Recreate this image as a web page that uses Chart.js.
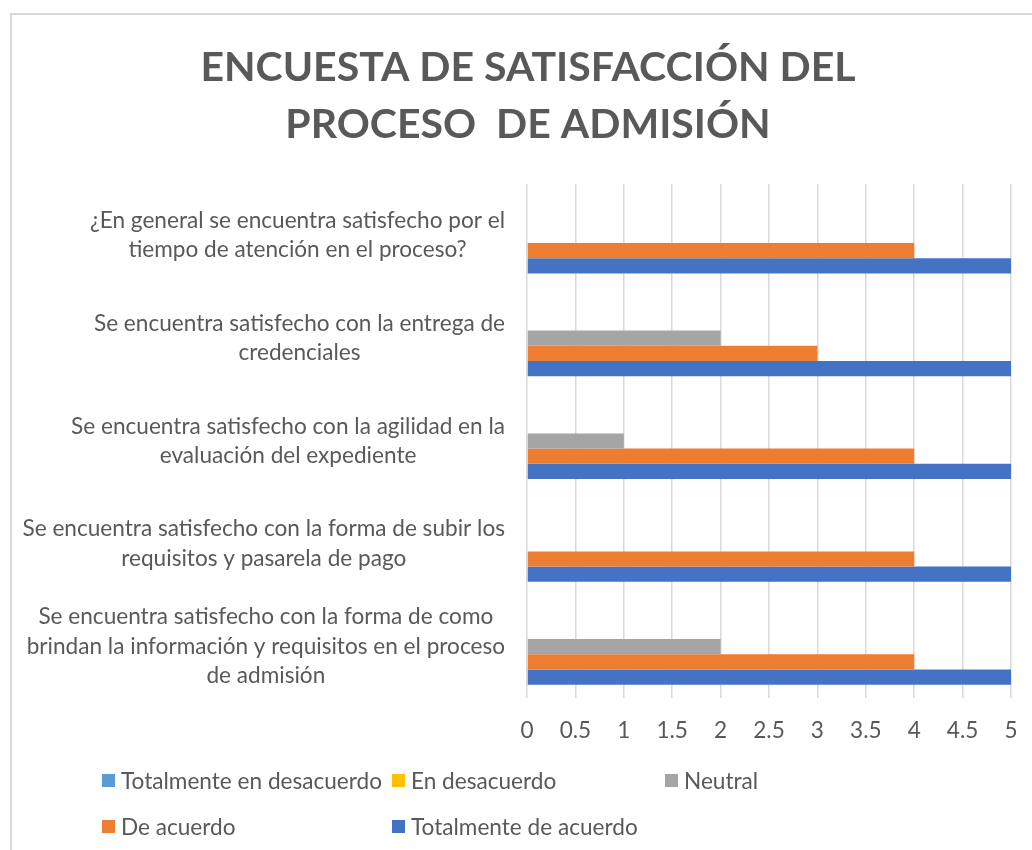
<!DOCTYPE html>
<html>
<head>
<meta charset="utf-8">
<script src="https://cdn.jsdelivr.net/npm/chart.js@4.4.1/dist/chart.umd.min.js"></script>
<style>
  body { margin: 0; background: #fff; overflow: hidden; font-family: Lato, sans-serif; }
  #frame { position: absolute; left: 10px; top: 13px; width: 1036px; height: 850px; border: 2px solid #d9d9d9; box-sizing: border-box; }
  #wrap { position: absolute; left: 10px; top: 13px; width: 1036px; height: 837px; }
  .item { position: absolute; height: 30px; display: flex; align-items: center; font-size: 22.6px; color: #595959; white-space: nowrap; }
  .item .box { width: 13px; height: 13px; margin-right: 6px; }
</style>
</head>
<body>
<div id="frame"></div>
<div id="wrap"><canvas id="chart" width="1036" height="837"></canvas></div>
<div id="legend"></div>
<script>
// categories, top to bottom
const categories = [
  ['¿En general se encuentra satisfecho por el', 'tiempo de atención en el proceso?'],
  ['Se encuentra satisfecho con la entrega de', 'credenciales'],
  ['Se encuentra satisfecho con la agilidad en la', 'evaluación del expediente'],
  ['Se encuentra satisfecho con la forma de subir los', 'requisitos y pasarela de pago'],
  ['Se encuentra satisfecho con la forma de como', 'brindan la información y requisitos en el proceso', 'de admisión']
];
const seriesNames = ['Totalmente en desacuerdo', 'En desacuerdo', 'Neutral', 'De acuerdo', 'Totalmente de acuerdo'];
const totalDesacuerdo = [0, 0, 0, 0, 0];
const enDesacuerdo = [0, 0, 0, 0, 0];
const neutral = [0, 2, 1, 0, 2];
const deAcuerdo = [4, 3, 4, 4, 4];
const totalAcuerdo = [5, 5, 5, 5, 5];
const xMin = 0, xMax = 5, xStep = 0.5;

const colors = ['#5B9BD5', '#FFC000', '#A5A5A5', '#ED7D31', '#4472C4'];
const values = [totalDesacuerdo, enDesacuerdo, neutral, deAcuerdo, totalAcuerdo];
const textColor = '#595959';
const fontName = 'Lato';
const textSize = 22.6;

// y labels: block right aligned to the axis, lines centred inside the block
const yLabels = {
  id: 'yLabels',
  afterDraw(chart) {
    const ctx = chart.ctx;
    const y = chart.scales.y;
    ctx.save();
    ctx.font = textSize + 'px ' + fontName;
    ctx.fillStyle = textColor;
    ctx.textAlign = 'center';
    ctx.textBaseline = 'middle';
    const right = chart.chartArea.left - 22;
    const lh = 29.5;
    chart.data.labels.forEach((lines, i) => {
      const cy = y.getPixelForValue(i);
      const w = Math.max(...lines.map(l => ctx.measureText(l).width));
      const cx = right - w / 2;
      lines.forEach((l, j) => ctx.fillText(l, cx, cy + (j - (lines.length - 1) / 2) * lh));
    });
    ctx.restore();
  }
};

const chart = new Chart(document.getElementById('chart'), {
  type: 'bar',
  data: {
    labels: categories,
    datasets: seriesNames.map((name, i) => ({
      label: name,
      data: values[i],
      backgroundColor: colors[i],
      borderWidth: 0,
      categoryPercentage: 0.74,
      barPercentage: 1
    }))
  },
  options: {
    indexAxis: 'y',
    responsive: false,
    animation: false,
    layout: { padding: { left: 35, right: 35, top: 0, bottom: 0 } },
    scales: {
      x: {
        min: xMin, max: xMax,
        ticks: {
          stepSize: xStep, color: textColor, padding: 19.5,
          font: { family: fontName, size: textSize },
          callback: v => String(Number(v))
        },
        grid: { color: '#d9d9d9', lineWidth: 1.5, drawTicks: false },
        border: { display: false },
        afterFit(scale) { scale.height = 152; } // room for the html legend below
      },
      y: {
        ticks: { display: false },
        grid: { display: false },
        border: { display: false },
        afterFit(scale) { scale.width = 482; }
      }
    },
    plugins: {
      legend: { display: false },
      tooltip: { enabled: false },
      title: {
        display: true,
        text: ['ENCUESTA DE SATISFACCIÓN DEL', 'PROCESO  DE ADMISIÓN'],
        color: textColor,
        font: { family: fontName, size: 41, weight: 'bold', lineHeight: 1.39 },
        padding: { top: 26.5, bottom: 30.5 }
      }
    }
  },
  plugins: [yLabels]
});

// legend in Excel's two-row grid
const legendPos = [[102, 780], [392, 780], [665, 780], [102, 826], [392, 826]];
const legend = document.getElementById('legend');
chart.data.datasets.forEach((ds, i) => {
  const item = document.createElement('div');
  item.className = 'item';
  item.style.left = legendPos[i][0] + 'px';
  item.style.top = (legendPos[i][1] - 15) + 'px';
  item.innerHTML = `<span class="box" style="background:${ds.backgroundColor}"></span>${ds.label}`;
  legend.appendChild(item);
});
</script>
</body>
</html>
